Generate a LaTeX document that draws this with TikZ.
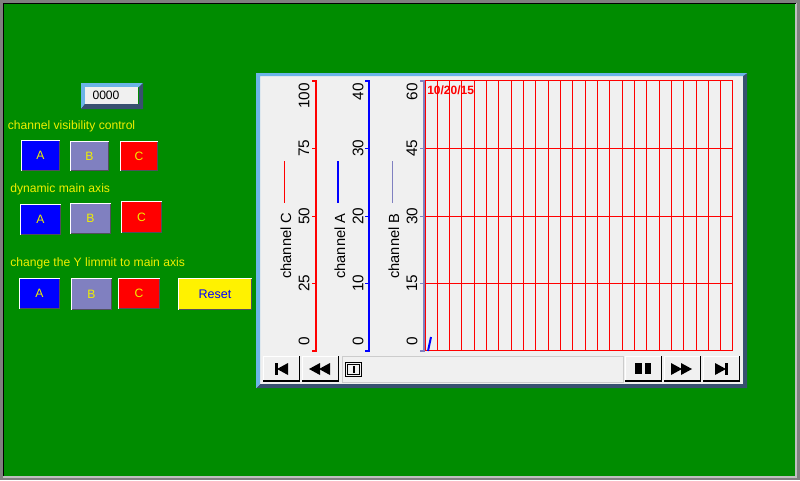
\documentclass[tikz,border=0pt]{standalone}
\usepackage{fontspec}
\setmainfont{Liberation Sans}
\definecolor{bg}{RGB}{0,140,0}
\definecolor{ylw}{RGB}{240,240,0}
\definecolor{purp}{RGB}{128,128,192}
\definecolor{pane}{RGB}{240,240,240}
\definecolor{lite}{RGB}{108,180,232}
\definecolor{dark}{RGB}{56,80,112}
\definecolor{edge}{RGB}{80,80,90}
\tikzset{
  lbl/.style={inner sep=0pt,anchor=west,text=ylw,font=\fontsize{9.1}{10}\selectfont},
  axlbl/.style={inner sep=0pt,rotate=90,text=black,font=\fontsize{11.5}{12}\selectfont},
  leglbl/.style={inner sep=0pt,rotate=90,anchor=west,text=black,font=\fontsize{11}{12}\selectfont},
  grid/.style={red,line width=0.9pt},
}
% x1,y1,x2,y2,fill,text colour,text,name
\newcommand{\flatbtn}[8]{
  \fill[#5] (#1,#2) rectangle (#3,#4);
  \draw[edge,line width=0.75pt] ({#3-0.5},#2) -- ({#3-0.5},{#4-0.5}) -- (#1,{#4-0.5});
  \draw[white,line width=0.75pt] ({#1+0.5},{#4-0.5}) -- ({#1+0.5},{#2+0.5}) -- ({#3-0.5},{#2+0.5});
  \node[inner sep=0pt,text=#6,font=\fontsize{9.1}{10}\selectfont] (#8) at ({(#1+#3)/2},{(#2+#4)/2}) {#7};
}
\newcommand{\navbtn}[2]{
  \fill[pane] (#1,356) rectangle (#2,381.5);
  \draw[white,line width=0.75pt] (#1+0.5,381) -- (#1+0.5,356.5) -- (#2,356.5);
  \draw[black,line width=0.9pt] (#2-0.5,356) -- (#2-0.5,381) -- (#1,381);
}
\begin{document}
\begin{tikzpicture}[x=0.75pt,y=-0.75pt]
\useasboundingbox (0,0) rectangle (800,480);
\fill[bg] (0,0) rectangle (800,480);
% window frame: sunken bevel
\draw[black!50,line width=2.25pt] (1.5,1.5) rectangle (798.5,478.5);
\draw[black!25,line width=1.5pt] (796,3) -- (796,477) -- (3,477);
\draw[black,line width=0.9pt] (3.5,476) -- (3.5,3.5) -- (796,3.5);
% value box
\fill[lite] (81,83) -- (143,83) -- (139,87) -- (85,87) -- (85,104) -- (81,109) -- cycle;
\fill[dark] (143,83) -- (143,109) -- (81,109) -- (85,104) -- (139,104) -- (139,87) -- cycle;
\fill[pane] (85,87) rectangle (138,104);
\node[inner sep=0pt,text=black,font=\fontsize{9.1}{10}\selectfont] (val) at (106,95) {0000};
% labels
\node[lbl] (l1) at (7.5,126) {channel visibility control};
\node[lbl] (l2) at (10,189) {dynamic main axis};
\node[lbl] (l3) at (10,263) {change the Y limmit to main axis};
% buttons
\flatbtn{21}{140}{60}{171}{blue}{ylw}{A}{a1}
\flatbtn{70}{141}{109}{171}{purp}{ylw}{B}{b1}
\flatbtn{120}{141}{158}{171}{red}{ylw}{C}{c1}
\flatbtn{20}{204}{61}{235}{blue}{ylw}{A}{a2}
\flatbtn{70}{203}{111}{234}{purp}{ylw}{B}{b2}
\flatbtn{121}{201}{162}{233}{red}{ylw}{C}{c2}
\flatbtn{19}{278}{60}{309}{blue}{ylw}{A}{a3}
\flatbtn{71}{278}{112}{310}{purp}{ylw}{B}{b3}
\flatbtn{118}{278}{160}{309}{red}{ylw}{C}{c3}
\flatbtn{178}{278}{252}{310}{yellow}{blue}{\fontsize{9.4}{10}\selectfont Reset\hspace{9pt}}{r1}
% chart panel
\fill[pane] (256,73) rectangle (747,388);
\fill[dark] (747,73) -- (747,388) -- (256,388) -- (260,384) -- (743,384) -- (743,75) -- cycle;
\fill[lite] (256,73) -- (747,73) -- (743,76) -- (260,76) -- (260,384) -- (256,388) -- cycle;
% grid
\foreach \i in {1,...,24} {
  \pgfmathsetmacro{\gx}{floor(425+\i*12.32)+0.5}
  \draw[grid] (\gx,80.5) -- (\gx,350.5);
}
\foreach \y in {148.5,216.5,283.5} \draw[grid] (425.5,\y) -- (732.5,\y);
\draw[grid] (425.5,80.5) rectangle (732.5,350.5);
% axes
\foreach \x/\c in {316/red,369/blue}{
  \draw[\c,line width=1.5pt] (\x,80) -- (\x,351.5);
  \foreach \y in {81,148.5,216.5,283.5,351} \draw[\c,line width=1.1pt] ({\x-4},\y) -- (\x,\y);
}
\draw[purp,line width=2pt] (424,80) -- (424,351.5);
\foreach \y in {81,148.5,216.5,283.5,351} \draw[purp,line width=1.1pt] (420,\y) -- (424,\y);
% axis labels
\node[axlbl,anchor=east] (ca5) at (304,83) {100};
\node[axlbl] (ca4) at (304,148) {75};
\node[axlbl] (ca3) at (304,216) {50};
\node[axlbl] (ca2) at (304,283) {25};
\node[axlbl,anchor=west] (ca1) at (304,346) {0};
\node[axlbl,anchor=east] (aa5) at (358,83) {40};
\node[axlbl] (aa4) at (358,148) {30};
\node[axlbl] (aa3) at (358,216) {20};
\node[axlbl] (aa2) at (358,283) {10};
\node[axlbl,anchor=west] (aa1) at (358,346) {0};
\node[axlbl,anchor=east] (ba5) at (412,83) {60};
\node[axlbl] (ba4) at (412,148) {45};
\node[axlbl] (ba3) at (412,216) {30};
\node[axlbl] (ba2) at (412,283) {15};
\node[axlbl,anchor=west] (ba1) at (412,346) {0};
% legends
\node[leglbl] (lc) at (286,279) {channel C};
\node[leglbl] (la) at (340,279) {channel A};
\node[leglbl] (lb) at (394,279) {channel B};
\draw[red,line width=0.9pt] (284.5,161) -- (284.5,203);
\draw[blue,line width=1.5pt] (338,161) -- (338,203);
\draw[purp,line width=0.9pt] (392.5,161) -- (392.5,203);
% date and data
\node[inner sep=0pt,anchor=west,text=red,font=\bfseries\fontsize{9}{10}\selectfont] (dt) at (427,90) {10/20/15};
\draw[blue,line width=1.5pt] (428,351) -- (431,337);
% nav bar
\navbtn{263}{300}
\navbtn{302}{339}
\draw[black!20,line width=0.75pt] (342.5,356.5) rectangle (623,382);
\draw[black,line width=0.75pt] (345.5,362.5) rectangle (361.5,376.5);
\draw[black,line width=0.75pt] (347.5,364.5) rectangle (359.5,374.5);
\fill[black] (352.5,366) rectangle (354.5,373);
\navbtn{625}{662}
\navbtn{664}{701}
\navbtn{703}{740}
\fill[black] (275,363) rectangle (277.5,375);
\fill[black] (277,369) -- (288,363) -- (288,375) -- cycle;
\fill[black] (309,369) -- (320,363) -- (320,375) -- cycle;
\fill[black] (319,369) -- (330,363) -- (330,375) -- cycle;
\fill[black] (635,363) rectangle (642,374);
\fill[black] (645,363) rectangle (651,374);
\fill[black] (671,363) -- (682,369) -- (671,375) -- cycle;
\fill[black] (681,363) -- (692,369) -- (681,375) -- cycle;
\fill[black] (715,363) -- (726,369) -- (715,375) -- cycle;
\fill[black] (725,363) rectangle (727.5,375);
\end{tikzpicture}
\end{document}
